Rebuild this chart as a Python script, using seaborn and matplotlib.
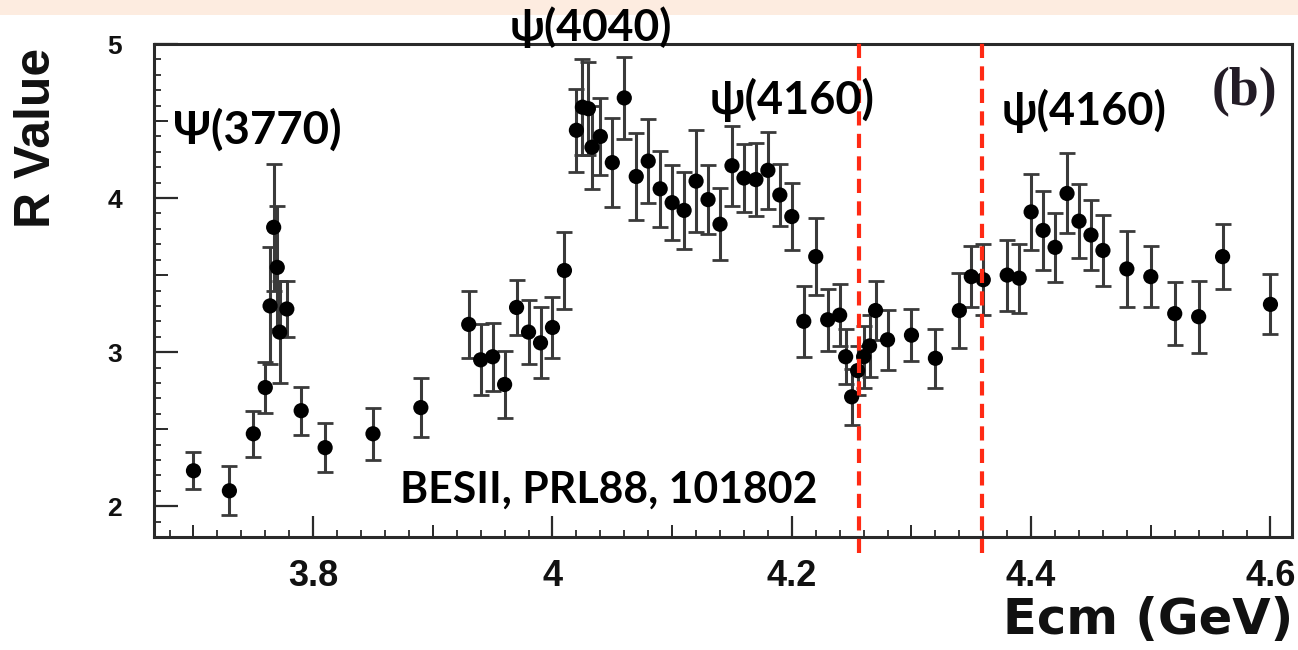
import matplotlib
matplotlib.use("Agg")
import matplotlib.pyplot as plt
import matplotlib.transforms as mtransforms
from matplotlib.ticker import MultipleLocator, FixedLocator, NullFormatter
from matplotlib.patches import Rectangle
import seaborn as sns
import pandas as pd

# ---------------- data ----------------
energy = [3.700, 3.730, 3.750, 3.760, 3.764, 3.767, 3.770, 3.772, 3.778, 3.790,
          3.810, 3.850, 3.890, 3.930, 3.940, 3.950, 3.960, 3.970, 3.980, 3.990,
          4.000, 4.010, 4.020, 4.025, 4.030, 4.033, 4.040, 4.050, 4.060, 4.070,
          4.080, 4.090, 4.100, 4.110, 4.120, 4.130, 4.140, 4.150, 4.160, 4.170,
          4.180, 4.190, 4.200, 4.210, 4.220, 4.230, 4.240, 4.245, 4.250, 4.255,
          4.260, 4.265, 4.270, 4.280, 4.300, 4.320, 4.340, 4.350, 4.360, 4.380,
          4.390, 4.400, 4.410, 4.420, 4.430, 4.440, 4.450, 4.460, 4.480, 4.500,
          4.520, 4.540, 4.560, 4.600]
r_value = [2.23, 2.10, 2.47, 2.77, 3.30, 3.81, 3.55, 3.13, 3.28, 2.62,
           2.38, 2.47, 2.64, 3.18, 2.95, 2.97, 2.79, 3.29, 3.13, 3.06,
           3.16, 3.53, 4.44, 4.59, 4.58, 4.33, 4.40, 4.23, 4.65, 4.14,
           4.24, 4.06, 3.97, 3.92, 4.11, 3.99, 3.83, 4.21, 4.13, 4.12,
           4.18, 4.02, 3.88, 3.20, 3.62, 3.21, 3.24, 2.97, 2.71, 2.88,
           2.97, 3.04, 3.27, 3.08, 3.11, 2.96, 3.27, 3.49, 3.47, 3.50,
           3.48, 3.91, 3.79, 3.68, 4.03, 3.85, 3.76, 3.66, 3.54, 3.49,
           3.25, 3.23, 3.62, 3.31]
r_err = [0.12, 0.16, 0.15, 0.165, 0.38, 0.41, 0.40, 0.33, 0.18, 0.155,
         0.157, 0.17, 0.19, 0.22, 0.23, 0.22, 0.22, 0.18, 0.21, 0.23,
         0.20, 0.25, 0.27, 0.31, 0.30, 0.27, 0.25, 0.29, 0.265, 0.28,
         0.275, 0.245, 0.245, 0.25, 0.33, 0.225, 0.235, 0.26, 0.22, 0.235,
         0.25, 0.20, 0.22, 0.23, 0.25, 0.20, 0.20, 0.18, 0.18, 0.16,
         0.20, 0.20, 0.19, 0.195, 0.17, 0.19, 0.245, 0.20, 0.23, 0.23,
         0.225, 0.245, 0.255, 0.225, 0.26, 0.24, 0.225, 0.233, 0.244, 0.20,
         0.204, 0.233, 0.212, 0.195]

x_ticks = [3.8, 4.0, 4.2, 4.4, 4.6]
x_tick_labels = ["3.8", "4", "4.2", "4.4", "4.6"]
y_ticks = [2, 3, 4, 5]
y_tick_labels = ["2", "3", "4", "5"]
marker_lines = [4.256, 4.359]

peak_labels = ["\u03A8(3770)", "\u03C8(4040)", "\u03C8(4160)", "\u03C8(4160)"]
ref_label = "BESII, PRL88, 101802"
panel_label = "(b)"
x_label = "Ecm (GeV)"
y_label = "R Value"

df = pd.DataFrame({"Ecm": energy, "R": r_value, "err": r_err})

# ---------------- figure ----------------
W, H = 1298, 650
sns.set_theme(style="ticks")
plt.rcParams["font.family"] = ["Liberation Sans", "DejaVu Sans"]

fig = plt.figure(figsize=(W / 100, H / 100), dpi=100)
fig.patch.set_facecolor("white")
# peach band at the top
fig.patches.append(Rectangle((0, 1 - 15 / H), 1, 15 / H, transform=fig.transFigure,
                             facecolor="#FDECE0", edgecolor="none", zorder=0))

ax_l, ax_r, ax_t, ax_b = 154, 1292, 44, 537
ax = fig.add_axes([ax_l / W, 1 - ax_b / H, (ax_r - ax_l) / W, (ax_b - ax_t) / H])

ax.errorbar(df["Ecm"], df["R"], yerr=df["err"], fmt="none", ecolor="#3a3a3a",
            elinewidth=2.2, capsize=5.5, capthick=2.0, zorder=2)
sns.scatterplot(data=df, x="Ecm", y="R", ax=ax, color="black", s=120,
                edgecolor="none", zorder=3, legend=False)

ax.set_xlim(3.667, 4.618)
ax.set_ylim(1.80, 5.00)
ax.set_xlabel("")
ax.set_ylabel("")

spine_c = "#2a2a2a"
for sp in ax.spines.values():
    sp.set_visible(True)
    sp.set_linewidth(2.2)
    sp.set_color(spine_c)

ax.xaxis.set_major_locator(FixedLocator(x_ticks))
ax.set_xticklabels(x_tick_labels)
ax.yaxis.set_major_locator(FixedLocator(y_ticks))
ax.set_yticklabels(y_tick_labels)
ax.xaxis.set_minor_locator(MultipleLocator(0.02))
ax.yaxis.set_minor_locator(MultipleLocator(0.1))
ax.tick_params(axis="x", which="major", direction="in", length=15, width=1.6,
               color=spine_c, pad=16, labelsize=26, top=False)
ax.tick_params(axis="y", which="major", direction="in", length=17, width=1.6,
               color=spine_c, pad=23, labelsize=19, right=False)
ax.tick_params(axis="both", which="minor", direction="in", length=5, width=1.3,
               color=spine_c, top=False, right=False)
for lab in ax.get_xticklabels() + ax.get_yticklabels():
    lab.set_fontweight("bold")
    lab.set_color("#111111")

# medium ticks at the half-steps
secx = ax.secondary_xaxis("bottom")
secx.xaxis.set_major_locator(MultipleLocator(0.1))
secx.xaxis.set_major_formatter(NullFormatter())
secx.tick_params(direction="in", length=9, width=1.4, color=spine_c)
secx.spines["bottom"].set_visible(False)
secy = ax.secondary_yaxis("left")
secy.yaxis.set_major_locator(MultipleLocator(0.5))
secy.yaxis.set_major_formatter(NullFormatter())
secy.tick_params(direction="in", length=10, width=1.4, color=spine_c)
secy.spines["left"].set_visible(False)

# red dashed lines
trans = mtransforms.blended_transform_factory(ax.transData, ax.transAxes)
for xv in marker_lines:
    ax.plot([xv, xv], [-(553 - ax_b) / (ax_b - ax_t), (ax_b - 37) / (ax_b - ax_t)],
            transform=trans, color="#FF2A14", lw=3.0, dashes=(3.4, 2.0),
            clip_on=False, zorder=6)

renderer = fig.canvas.get_renderer()


def fit_text(s, x0, x1, yc, fam, **kw):
    t = fig.text(x0 / W, 1 - yc / H, s, ha="left", va="center", fontsize=20,
                 family=fam, fontweight="bold", zorder=7, **kw)
    w = t.get_window_extent(renderer).width
    t.set_fontsize(20 * (x1 - x0) / w)
    return t


ann_font = ["Lato", "Open Sans", "DejaVu Sans"]
fit_text(peak_labels[0], 173, 342, 130, ann_font, color="black")
fit_text(peak_labels[1], 510, 673, 27, ann_font, color="black")
fit_text(peak_labels[2], 710, 875, 100, ann_font, color="black")
fit_text(peak_labels[3], 1002, 1167, 111, ann_font, color="black")
fit_text(ref_label, 400, 818, 490, ann_font, color="black")
fit_text(panel_label, 1212, 1278, 92, ["Liberation Serif", "DejaVu Serif"], color="#231C26")

# axis titles
xl = fig.text(1293 / W, 1 - 634 / H, x_label, ha="right", va="baseline", fontsize=30,
              family=["DejaVu Sans"], fontweight="bold", color="#111111")
w = xl.get_window_extent(renderer).width
xl.set_fontsize(30 * 290 / w)

yl = fig.text(37 / W, 1 - 138 / H, y_label, ha="center", va="center", rotation=90,
              fontsize=30, family=["Liberation Sans", "DejaVu Sans"], fontweight="bold",
              color="#111111")
h = yl.get_window_extent(renderer).height
yl.set_fontsize(30 * 180 / h)

fig.savefig("out.png", dpi=100)
